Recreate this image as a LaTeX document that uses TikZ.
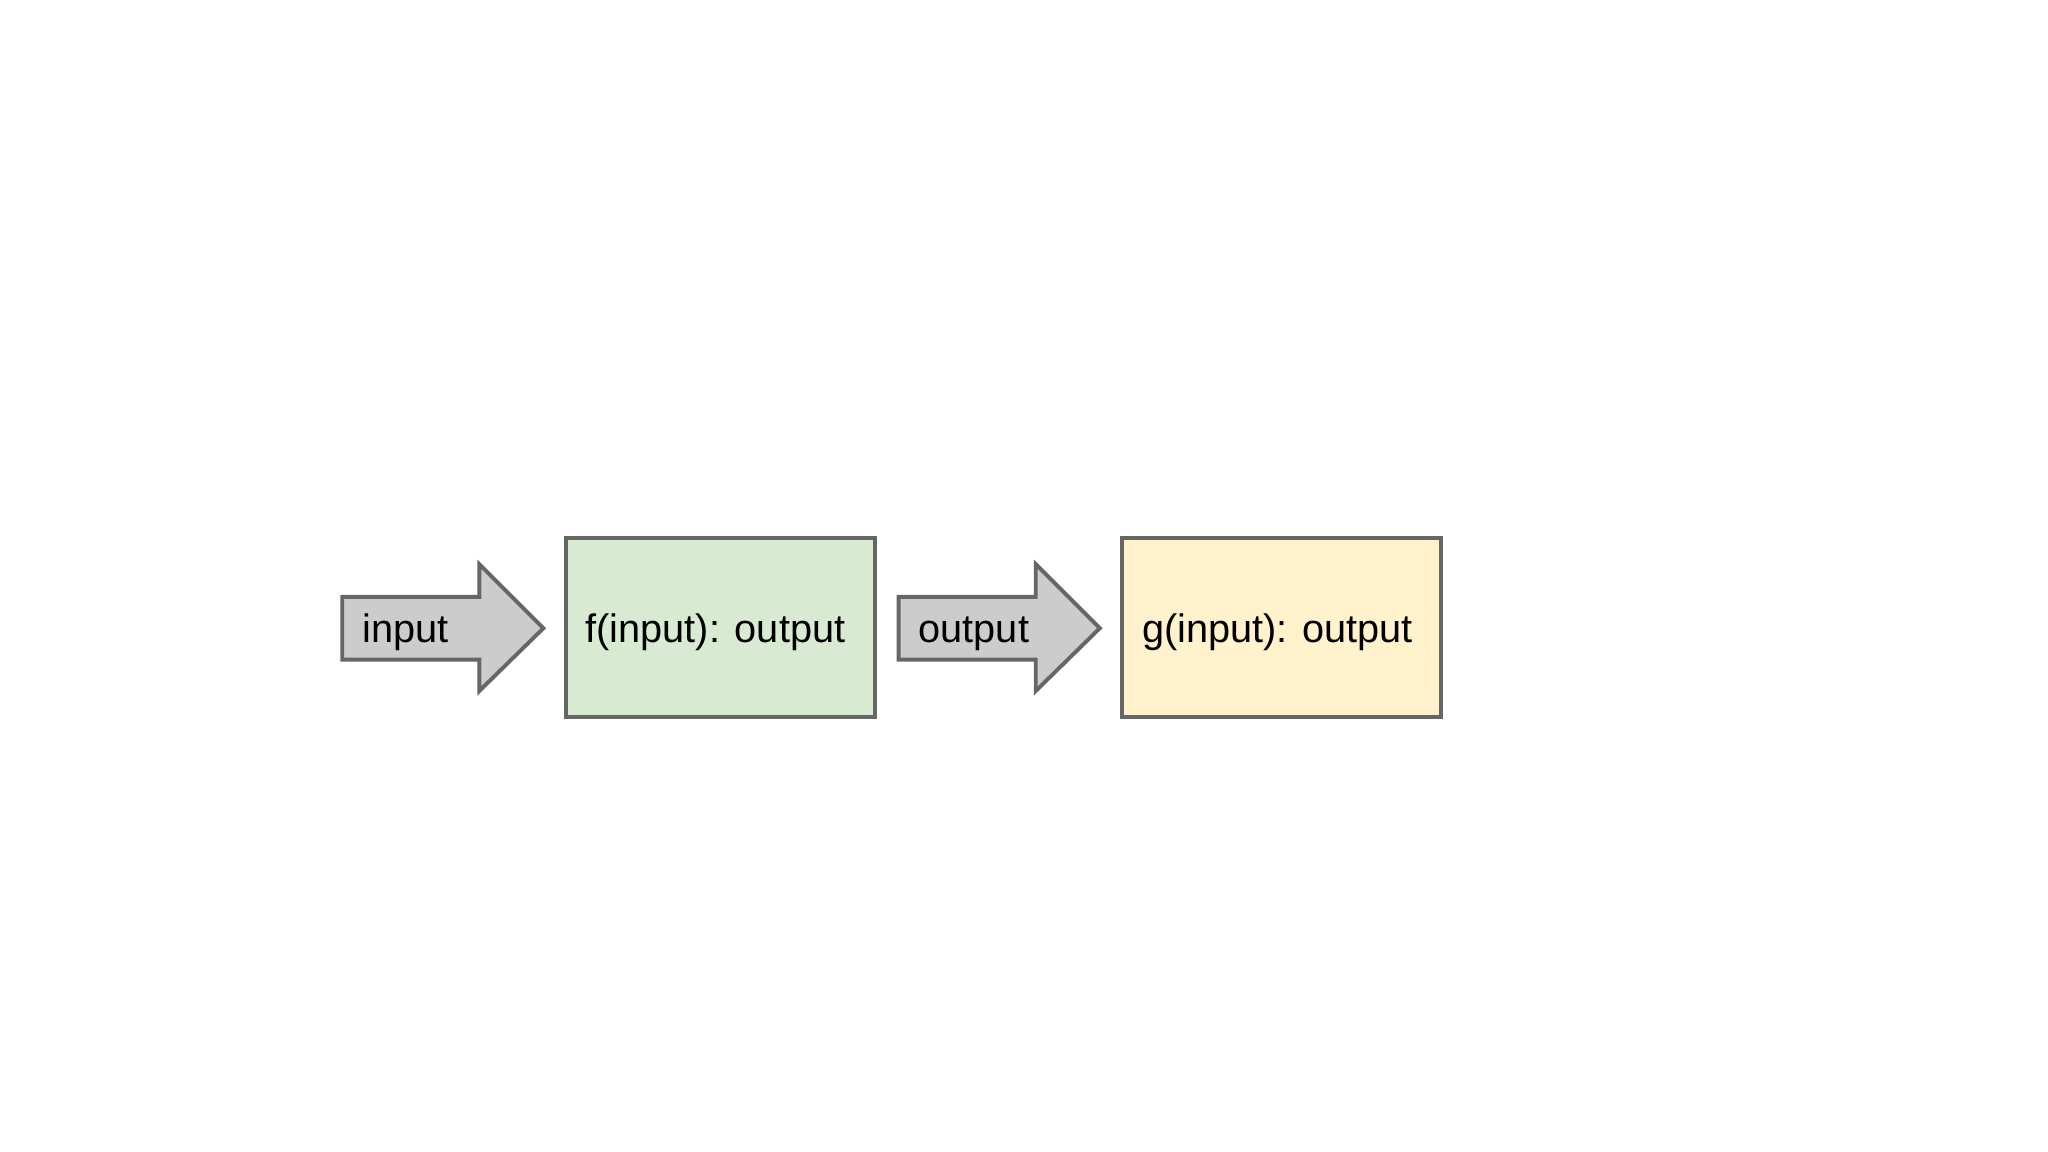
\documentclass[tikz,border=0pt]{standalone}
\usepackage{fontspec}
\setmainfont{Liberation Sans}
\definecolor{edge}{HTML}{666666}
\definecolor{arrowfill}{HTML}{CCCCCC}
\definecolor{greenfill}{HTML}{D9EAD3}
\definecolor{yellowfill}{HTML}{FFF2CC}
\tikzset{
  shapeline/.style={draw=edge, line width=1.7pt, line join=miter},
  lbl/.style={anchor=base west, inner sep=0pt, font=\fontsize{17.3pt}{20pt}\selectfont, text=black},
}
\begin{document}
\begin{tikzpicture}[x=0.02cm,y=-0.02cm]
\useasboundingbox[fill=white] (0,0) rectangle (1568,882);
% arrow 1
\filldraw[shapeline, fill=arrowfill] (262,457) -- (367,457) -- (367,432) -- (416,481) -- (367,529) -- (367,505) -- (262,505) -- cycle;
\node[lbl] (inlbl) at (277,492) {input};
% green box
\filldraw[shapeline, fill=greenfill] (433,412) rectangle (670,549);
\node[lbl] (flbl) at (448,492) {f(input): output};
% arrow 2
\filldraw[shapeline, fill=arrowfill] (688,457) -- (793,457) -- (793,432) -- (842,481) -- (793,529) -- (793,505) -- (688,505) -- cycle;
\node[lbl] (outlbl) at (703,492) {output};
% yellow box
\filldraw[shapeline, fill=yellowfill] (859,412) rectangle (1103,549);
\node[lbl] (glbl) at (874,492) {g(input): output};
\end{tikzpicture}
\end{document}
